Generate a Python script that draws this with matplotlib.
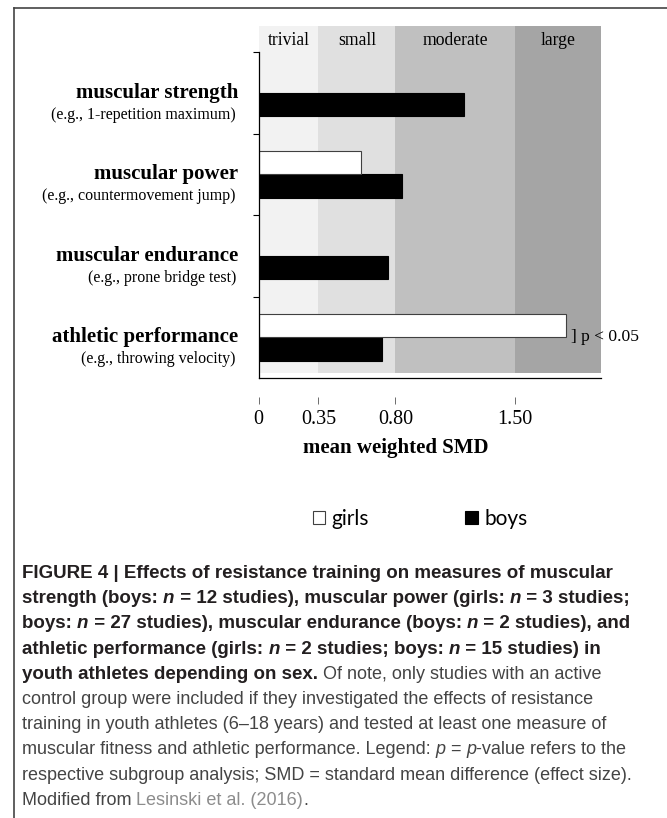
import numpy as np
import matplotlib.pyplot as plt
from matplotlib.lines import Line2D
from matplotlib.transforms import IdentityTransform, blended_transform_factory

plt.rcParams['font.family'] = ['Liberation Serif', 'DejaVu Serif']

categories = ['muscular strength', 'muscular power', 'muscular endurance', 'athletic performance']
examples = ['(e.g., 1-repetition maximum)', '(e.g., countermovement jump)',
            '(e.g., prone bridge test)', '(e.g., throwing velocity)']
girls = [np.nan, 0.60, np.nan, 1.80]
boys = [1.20, 0.84, 0.76, 0.72]

band_edges = [0, 0.35, 0.80, 1.50, 2.0]
band_names = ['trivial', 'small', 'moderate', 'large']
band_colors = ['#f2f2f2', '#e0e0e0', '#c0c0c0', '#a5a5a5']
xticks = [0, 0.35, 0.80, 1.50]
xticklabels = ['0', '0.35', '0.80', '1.50']

fig = plt.figure(figsize=(6.67, 8.18), dpi=100)
ax = fig.add_axes([0.3876, 0.5379, 0.5127, 0.4307])

y = np.arange(len(categories))
h = 0.29
ytop = -0.823

for i in range(len(band_names)):
    ax.axvspan(band_edges[i], band_edges[i + 1], ymin=0.014, ymax=1,
               color=band_colors[i], lw=0, zorder=0)
    ax.text((band_edges[i] + band_edges[i + 1]) / 2, ytop + 0.184, band_names[i],
            ha='center', va='center', fontsize=12.7)

boys_bars = ax.barh(y, boys, height=h, align='edge', color='black',
                    edgecolor='black', lw=0.8, zorder=2, label='boys')
girls_bars = ax.barh(y - h, girls, height=h, align='edge', color='white',
                     edgecolor='#404040', lw=0.8, zorder=2, label='girls')

ax.set_xlim(0, 2.0)
ax.set_ylim(3.5, ytop)
for s in ['top', 'right']:
    ax.spines[s].set_visible(False)
ax.spines['left'].set_bounds(-0.5, 3.5)
ax.spines['left'].set_linewidth(0.9)
ax.spines['bottom'].set_linewidth(0.9)
ax.set_yticks([-0.5, 0.5, 1.5, 2.5])
ax.set_yticklabels([])
ax.tick_params(axis='y', length=4, width=0.8, direction='out')
ax.tick_params(axis='x', bottom=False, labelbottom=False)

sec = ax.secondary_xaxis(-0.055)
sec.set_xticks(xticks, xticklabels)
sec.spines['bottom'].set_visible(False)
sec.tick_params(length=5, width=0.6, color='#555555', pad=4, labelsize=14.5)

trans = blended_transform_factory(ax.transAxes, ax.transData)
for i in range(len(categories)):
    ax.text(-0.06, y[i], categories[i], transform=trans, ha='right', va='center',
            fontweight='bold', fontsize=15)
    ax.text(-0.066, y[i] + 0.27, examples[i], transform=trans, ha='right',
            va='center', fontsize=11.5)

ax.text(girls[3] + 0.03, y[3], '] p < 0.05', ha='left', va='center', fontsize=12.6)

fig.text(396 / 667, 1 - 448 / 818, 'mean weighted SMD', ha='center', va='center',
         fontweight='bold', fontsize=15)

fig.legend(handles=[girls_bars, boys_bars], labels=['girls', 'boys'], ncol=2,
           loc='center', bbox_to_anchor=(420 / 667, 1 - 519 / 818), frameon=False,
           prop={'family': ['Lato', 'DejaVu Sans'], 'size': 15},
           handlelength=0.62, handleheight=0.62, handletextpad=0.3,
           columnspacing=4.6, borderpad=0)

# frame of the figure panel
fig.add_artist(Line2D([14 / 667, 1], [1 - 8 / 818, 1 - 8 / 818], color='#444444', lw=1.2))
fig.add_artist(Line2D([14 / 667, 14 / 667], [0, 1 - 8 / 818], color='#444444', lw=1.2))

# caption, drawn run by run
renderer = fig.canvas.get_renderer()
dark, body, link = '#231f20', '#444444', '#8c8c8c'


def advance(txt, weight, style, size):
    t = fig.text(0, 0, 'x' + txt + 'x', transform=IdentityTransform(), fontsize=size,
                 fontweight=weight, fontstyle=style, family='Liberation Sans')
    t2 = fig.text(0, 0, 'xx', transform=IdentityTransform(), fontsize=size,
                  fontweight=weight, fontstyle=style, family='Liberation Sans')
    w = t.get_window_extent(renderer).width - t2.get_window_extent(renderer).width
    t.remove()
    t2.remove()
    return w


def run_line(x0, base, runs):
    x = x0
    for txt, weight, style, color, size in runs:
        fig.text(x, 818 - base, txt, transform=IdentityTransform(), fontsize=size,
                 fontweight=weight, fontstyle=style, color=color,
                 family='Liberation Sans', va='baseline', ha='left')
        x += advance(txt, weight, style, size)


B = ('bold', 'normal', dark, 13.5)
BI = ('bold', 'italic', dark, 13.5)
R = ('normal', 'normal', body, 13)
RI = ('normal', 'italic', body, 13)
L = ('normal', 'normal', link, 13)

caption = [
    [('FIGURE 4 | Effects of resistance training on measures of muscular',) + B],
    [('strength (boys: ',) + B, ('n',) + BI, (' = 12 studies), muscular power (girls: ',) + B,
     ('n',) + BI, (' = 3 studies;',) + B],
    [('boys: ',) + B, ('n',) + BI, (' = 27 studies), muscular endurance (boys: ',) + B,
     ('n',) + BI, (' = 2 studies), and',) + B],
    [('athletic performance (girls: ',) + B, ('n',) + BI, (' = 2 studies; boys: ',) + B,
     ('n',) + BI, (' = 15 studies) in',) + B],
    [('youth athletes depending on sex.',) + B, (' Of note, only studies with an active',) + R],
    [('control group were included if they investigated the effects of resistance',) + R],
    [('training in youth athletes (6\u201318 years) and tested at least one measure of',) + R],
    [('muscular fitness and athletic performance. Legend: ',) + R, ('p',) + RI, (' = ',) + R,
     ('p',) + RI, ('-value refers to the',) + R],
    [('respective subgroup analysis; SMD = standard mean difference (effect size).',) + R],
    [('Modified from ',) + R, ('Lesinski et al. (2016)',) + L, ('.',) + R],
]

for k, line in enumerate(caption):
    run_line(22, 578 + 25.2 * k, line)

fig.savefig('out.png', dpi=100)
